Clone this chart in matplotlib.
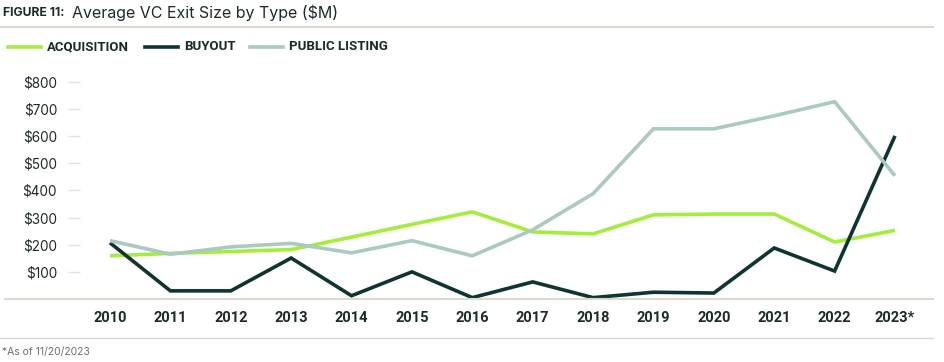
import numpy as np
import matplotlib
matplotlib.use("Agg")
from matplotlib import pyplot as plt
from matplotlib.lines import Line2D

# ---------------------------------------------
# Data
# ---------------------------------------------
years = ["2010", "2011", "2012", "2013", "2014", "2015", "2016",
         "2017", "2018", "2019", "2020", "2021", "2022", "2023*"]
acquisition = [159, 168, 175, 182, 228, 275, 321, 247, 240, 310, 313, 313, 210, 253]
buyout = [207, 30, 30, 151, 12, 100, 5, 63, 5, 25, 22, 188, 103, 601]
public_listing = [215, 165, 192, 205, 170, 215, 159, 255, 388, 627, 627, 675, 727, 454]
y_ticks = [100, 200, 300, 400, 500, 600, 700, 800]

series_names = ["ACQUISITION", "BUYOUT", "PUBLIC LISTING"]
series_colors = ["#a2ee3a", "#0e3531", "#a9c9c1"]

# ---------------------------------------------
# Fonts
# ---------------------------------------------
narrow = ["Roboto", "DejaVu Sans"]
regular = ["Inter", "DejaVu Sans"]
rule_color = "#dcd8cf"
text_color = "#1f2a28"

W, H = 945, 362
fig = plt.figure(figsize=(W / 100, H / 100), dpi=100)

def fx(px):
    return px / W

def fy(py):
    return 1 - py / H

# ---------------------------------------------
# Axes placement
# ---------------------------------------------
ax_left, ax_right, ax_top, ax_bottom = 80, 930, 70, 299
ax = fig.add_axes([fx(ax_left), fy(ax_bottom), fx(ax_right - ax_left), fy(ax_top) - fy(ax_bottom)])

x = np.arange(len(years))
for vals, col in zip([acquisition, buyout, public_listing], series_colors):
    ax.plot(x, vals, color=col, lw=2.6, solid_joinstyle="miter", solid_capstyle="butt")

px_per_year = 60.38
ax.set_xlim(-(110 - ax_left) / px_per_year, 13 + (ax_right - 895) / px_per_year)
ax.set_ylim(0, (ax_bottom - ax_top) / 0.2714)

for s in ax.spines.values():
    s.set_visible(False)

ax.set_yticks(y_ticks)
ax.set_yticklabels([f"${v}" for v in y_ticks], family=regular, fontsize=9.8, color=text_color)
ax.tick_params(axis="y", direction="out", length=8.5, width=1, color="#e4e1da", pad=8)
ax.set_xticks([])

# x labels below the baseline
for xi, lab in zip(x, years):
    ax.annotate(lab, xy=(xi, 0), xycoords="data", xytext=(0, -14), textcoords="offset points",
                ha="center", va="center", family=narrow, fontweight="bold", fontsize=10.5,
                color=text_color)

# ---------------------------------------------
# Rules
# ---------------------------------------------
fig.add_artist(Line2D([fx(0), fx(933)], [fy(27), fy(27)], color=rule_color, lw=1.5))
fig.add_artist(Line2D([fx(5), fx(933)], [fy(299), fy(299)], color=rule_color, lw=1.5))
fig.add_artist(Line2D([fx(0), fx(933)], [fy(338), fy(338)], color=rule_color, lw=1.0))

# ---------------------------------------------
# Titles
# ---------------------------------------------
fig.text(fx(3), fy(13), "FIGURE 11:", family=regular, fontweight="bold", fontsize=8.8,
         color=text_color, va="center")
fig.text(fx(72), fy(13), "Average VC Exit Size by Type ($M)", family=regular, fontsize=11.5,
         color=text_color, va="center")

# ---------------------------------------------
# Legend (manual)
# ---------------------------------------------
leg_x = [8, 145, 250]
for lx, name, col in zip(leg_x, series_names, series_colors):
    fig.add_artist(Line2D([fx(lx), fx(lx + 33)], [fy(47), fy(47)], color=col, lw=2.6))
    fig.text(fx(lx + 39), fy(47), name, family=narrow, fontweight="bold", fontsize=9.5,
             color=text_color, va="center")

fig.text(fx(2), fy(352), "*As of 11/20/2023", family=regular, fontsize=7.5,
         color="#6b6f6c", va="center")

fig.savefig("out.png", dpi=100)
